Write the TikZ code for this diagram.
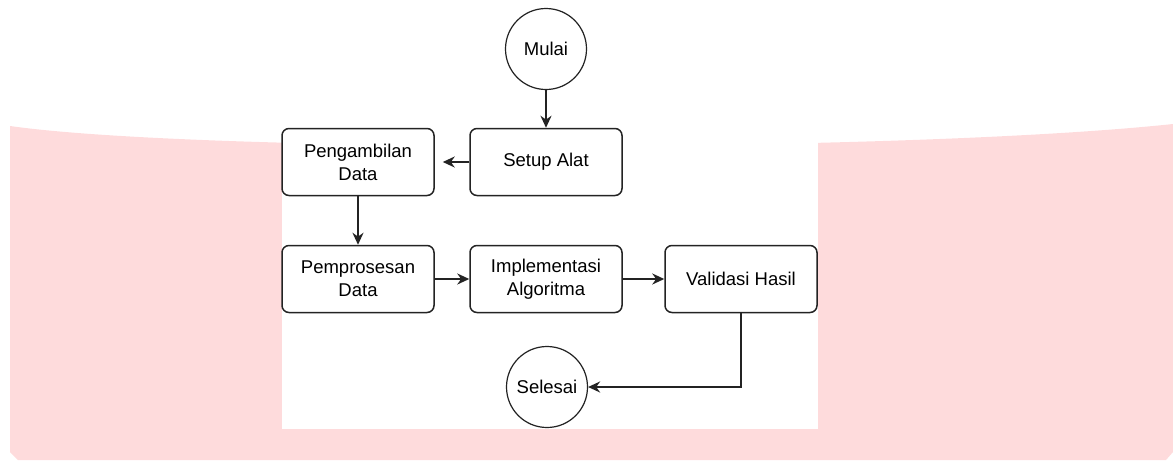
\documentclass[tikz,border=0pt]{standalone}
\usepackage{fontspec}
\setmainfont{Liberation Sans}
\usepackage{tikz}
\usetikzlibrary{arrows.meta}

\definecolor{bandpink}{RGB}{254,219,220}
\definecolor{inkgray}{RGB}{35,35,35}

\tikzset{
  stepbox/.style={draw=inkgray, line width=1.5pt, rounded corners=7pt, fill=white,
    minimum width=152pt, minimum height=67pt, align=center,
    font=\fontsize{18.5}{23}\selectfont},
  endcircle/.style={draw=inkgray, line width=1.2pt, circle, fill=white,
    minimum size=81pt, inner sep=0pt, font=\fontsize{18.5}{23}\selectfont},
  flow/.style={draw=inkgray, line width=2pt, -{Stealth[length=12pt,width=11pt]}}
}

\begin{document}
\begin{tikzpicture}[x=1pt,y=-1pt]
\useasboundingbox (0,0) rectangle (1173,461);
% Pink band behind everything
\fill[bandpink] (10,126) .. controls (200,153) and (900,153) .. (1173,124) -- (1173,452) -- (1166,460) -- (18,460) -- (10,452) -- cycle;
% White panel of the flowchart
\fill[white] (282,0) rectangle (818,429);
% Steps
\node[endcircle] (mulai) at (546,49) {Mulai};
\node[stepbox] (setup) at (546,162) {Setup Alat};
\node[stepbox] (ambil) at (358,162) {Pengambilan\\Data};
\node[stepbox] (proses) at (358,279) {Pemprosesan\\Data};
\node[stepbox] (impl) at (546,279) {Implementasi\\Algoritma};
\node[stepbox] (valid) at (741,279) {Validasi Hasil};
\node[endcircle] (selesai) at (547,387) {Selesai};
% Flow
\draw[flow] (mulai) -- (setup);
\draw[flow, shorten >=8pt] (setup) -- (ambil);
\draw[flow] (ambil) -- (proses);
\draw[flow] (proses) -- (impl);
\draw[flow] (impl) -- (valid);
\draw[flow] (valid.south) |- (selesai.east); % back to the end
\end{tikzpicture}
\end{document}
